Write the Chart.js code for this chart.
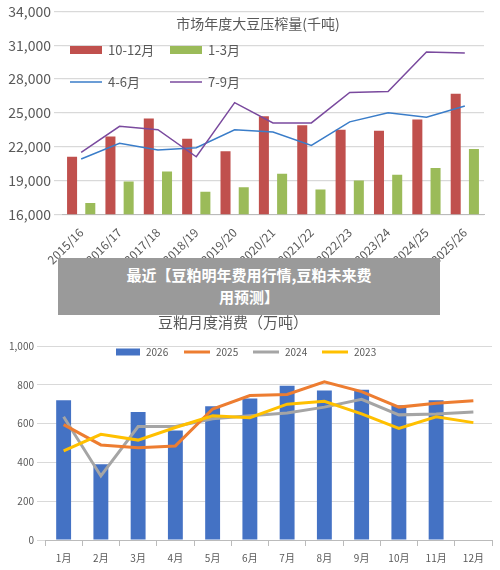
<!DOCTYPE html>
<html><head><meta charset="utf-8">
<script src="https://cdn.jsdelivr.net/npm/chart.js@4"></script>
<style>
body{margin:0;background:#fff;width:500px;height:570px;position:relative;overflow:hidden;font-family:"Noto Sans CJK SC","Noto Sans",sans-serif}
#c1{position:absolute;left:0;top:0}
#c2{position:absolute;left:0;top:300px}
#ban{position:absolute;left:58px;top:258px;width:382px;height:57px;background:#9a9a9a;color:#fff;font-weight:bold;font-size:15px;text-align:center;line-height:22px;padding-top:6px;box-sizing:border-box}
</style></head><body>
<canvas id="c1" width="490" height="270"></canvas>
<canvas id="c2" width="500" height="270"></canvas>
<div id="ban">最近【豆粕明年费用行情,豆粕未来费<br>用预测】</div>
<script>
const seasons=["2015/16","2016/17","2017/18","2018/19","2019/20","2020/21","2021/22","2022/23","2023/24","2024/25","2025/26"];
const q4=[21100,22900,24500,22700,21600,24700,23900,23500,23400,24400,26700];
const q1=[17000,18900,19800,18000,18400,19600,18200,19000,19500,20100,21800];
const q2=[20900,22300,21700,21900,23500,23300,22100,24200,25000,24600,25600];
const q3=[21500,23800,23500,21100,25900,24100,24100,26800,26900,30400,30300];
const months=["1月","2月","3月","4月","5月","6月","7月","8月","9月","10月","11月","12月"];
const y2026=[720,390,660,565,690,730,795,770,775,695,720,null];
const y2025=[595,490,475,485,675,745,750,815,765,685,705,718];
const y2024=[635,330,585,585,625,640,655,685,725,645,650,660];
const y2023=[460,545,515,580,640,630,700,715,650,575,635,605];
const G='#595959';
Chart.defaults.font.family='"Noto Sans CJK SC","Noto Sans",sans-serif';
Chart.defaults.animation=false;
function legendPlugin(title,tx,ty,tsize,items){return{id:'lg',afterDraw(c){const x=c.ctx;x.save();x.fillStyle=G;x.font=tsize+'px "Noto Sans CJK SC"';x.textAlign='center';x.textBaseline='middle';if(title)x.fillText(title,tx,ty);x.textAlign='left';
items.forEach(it=>{x.fillStyle=it.c;if(it.bar)x.fillRect(it.x,it.y-it.h/2,it.w,it.h);else{x.strokeStyle=it.c;x.lineWidth=it.lw;x.beginPath();x.moveTo(it.x,it.y);x.lineTo(it.x+it.w,it.y);x.stroke();}
x.fillStyle=G;x.font=it.fs+'px "Noto Sans CJK SC"';x.fillText(it.t,it.x+it.w+6,it.y);});x.restore();}}}
new Chart(document.getElementById('c1'),{data:{labels:seasons,datasets:[
{type:'line',label:'4-6月',data:q2,borderColor:'#3a7dc9',borderWidth:1.5,pointRadius:0,order:1},
{type:'line',label:'7-9月',data:q3,borderColor:'#7a4a9e',borderWidth:1.5,pointRadius:0,order:0},
{type:'bar',label:'10-12月',data:q4,backgroundColor:'#c0504d',barPercentage:0.55,categoryPercentage:0.95,order:2},
{type:'bar',label:'1-3月',data:q1,backgroundColor:'#9bbb59',barPercentage:0.55,categoryPercentage:0.95,order:2}]},
options:{responsive:false,layout:{padding:{top:4,right:6}},plugins:{legend:{display:false},tooltip:{enabled:false}},
scales:{x:{grid:{display:false},border:{color:'#bbb'},ticks:{color:G,font:{size:12},maxRotation:45,minRotation:45}},
y:{min:16000,max:34000,afterFit(s){s.width=62},ticks:{stepSize:3000,color:G,font:{size:14}},grid:{color:'#d9d9d9',lineWidth:1.2},border:{display:false}}}},
plugins:[legendPlugin('市场年度大豆压榨量(千吨)',258,24,14,[
{bar:1,c:'#c0504d',x:70,y:50,w:32,h:8,t:'10-12月',fs:13},{bar:1,c:'#9bbb59',x:170,y:50,w:32,h:8,t:'1-3月',fs:13},
{c:'#3a7dc9',lw:1.5,x:70,y:82,w:32,t:'4-6月',fs:13},{c:'#7a4a9e',lw:1.5,x:170,y:82,w:32,t:'7-9月',fs:13}])]});
new Chart(document.getElementById('c2'),{data:{labels:months,datasets:[
{type:'line',label:'2025',data:y2025,borderColor:'#ed7d31',borderWidth:3,pointRadius:0,order:0},
{type:'line',label:'2024',data:y2024,borderColor:'#a5a5a5',borderWidth:3,pointRadius:0,order:1},
{type:'line',label:'2023',data:y2023,borderColor:'#ffc000',borderWidth:3,pointRadius:0,order:-1},
{type:'bar',label:'2026',data:y2026,backgroundColor:'#4472c4',barPercentage:0.4,categoryPercentage:1,order:3}]},
options:{responsive:false,layout:{padding:{top:46,right:8}},plugins:{legend:{display:false},tooltip:{enabled:false}},
scales:{x:{grid:{display:true,drawOnChartArea:false,tickLength:6,color:'#bbb'},offset:true,border:{color:'#bbb'},ticks:{color:G,font:{size:10},padding:6}},
y:{min:0,max:1000,afterFit(s){s.width=45},ticks:{stepSize:200,color:G,font:{size:10}},grid:{color:'#d9d9d9'},border:{display:false}}}},
plugins:[legendPlugin('豆粕月度消费（万吨）',233,22,15,[
{bar:1,c:'#4472c4',x:116,y:52,w:24,h:7,t:'2026',fs:10},{c:'#ed7d31',lw:3,x:184,y:52,w:26,t:'2025',fs:10},
{c:'#a5a5a5',lw:3,x:253,y:52,w:26,t:'2024',fs:10},{c:'#ffc000',lw:3,x:322,y:52,w:26,t:'2023',fs:10}])]});
</script></body></html>
